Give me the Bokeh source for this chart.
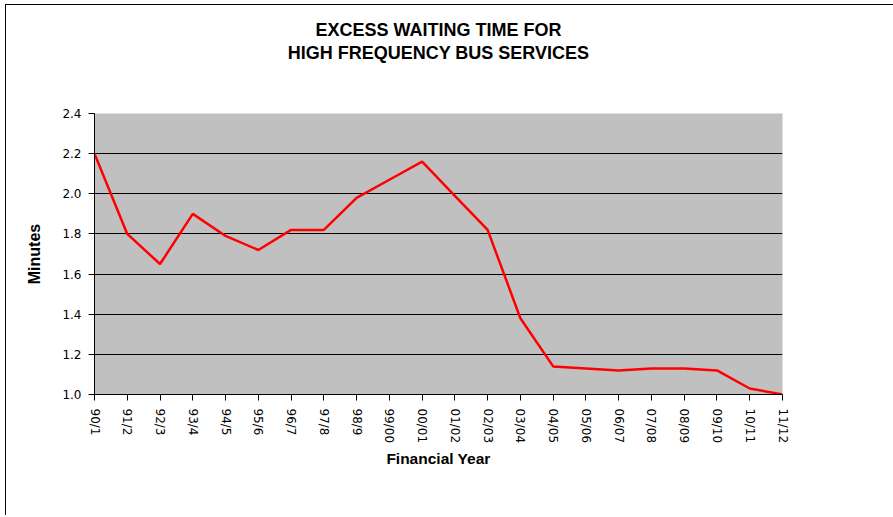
from bokeh.plotting import figure
from bokeh.models import FixedTicker, Range1d, Title
from bokeh.embed import file_html
from bokeh.resources import INLINE

years = ["90/1", "91/2", "92/3", "93/4", "94/5", "95/6", "96/7", "97/8", "98/9", "99/00",
         "00/01", "01/02", "02/03", "03/04", "04/05", "05/06", "06/07", "07/08", "08/09",
         "09/10", "10/11", "11/12"]
minutes = [2.20, 1.80, 1.65, 1.90, 1.79, 1.72, 1.82, 1.82, 1.98, 2.07,
           2.16, 1.99, 1.82, 1.38, 1.14, 1.13, 1.12, 1.13, 1.13,
           1.12, 1.03, 1.00]
y_ticks = [1.0, 1.2, 1.4, 1.6, 1.8, 2.0, 2.2, 2.4]
y_tick_labels = ["1.0", "1.2", "1.4", "1.6", "1.8", "2.0", "2.2", "2.4"]
grid_ticks = [1.2, 1.4, 1.6, 1.8, 2.0, 2.2]
title_lines = ["EXCESS WAITING TIME FOR", "HIGH FREQUENCY BUS SERVICES"]

xs = list(range(len(years)))

p = figure(frame_width=688, frame_height=281,
           min_border_left=88, min_border_right=111, min_border_top=108, min_border_bottom=121,
           x_range=Range1d(0, len(years) - 1), y_range=Range1d(y_ticks[0], y_ticks[-1]),
           output_backend="svg", toolbar_location=None)

p.background_fill_color = "#c0c0c0"
p.border_fill_color = "white"
p.outline_line_color = None


def style_title(t):
    t.align = "center"
    t.text_font = "Liberation Sans"
    t.text_font_size = "18px"
    t.text_font_style = "bold"
    t.text_color = "black"


# figure title is outermost; items in 'above' stack outward from the frame
p.title.text = title_lines[0]
style_title(p.title)
p.title.standoff = 1
spacer = Title(text=" ", text_font_size="1px", standoff=48)
p.add_layout(spacer, "above")
t2 = Title(text=title_lines[1])
style_title(t2)
t2.standoff = 0
p.add_layout(t2, "above")

# x axis
p.xaxis.ticker = FixedTicker(ticks=xs)
p.xaxis.major_label_overrides = {i: lab for i, lab in zip(xs, years)}
p.xaxis.major_label_orientation = "vertical"
p.xaxis.axis_label = "Financial Year"
p.xaxis.axis_label_text_font = "Liberation Sans"
p.xaxis.axis_label_text_font_size = "15.5px"
p.xaxis.axis_label_text_font_style = "bold"
p.xaxis.axis_label_standoff = 4
p.xaxis.major_label_standoff = 8

# y axis
p.yaxis.ticker = FixedTicker(ticks=y_ticks)
p.yaxis.major_label_overrides = {t: lab for t, lab in zip(y_ticks, y_tick_labels)}
p.yaxis.axis_label = "Minutes"
p.yaxis.axis_label_text_font = "Liberation Sans"
p.yaxis.axis_label_text_font_size = "16px"
p.yaxis.axis_label_text_font_style = "bold"
p.yaxis.axis_label_standoff = 16
p.yaxis.major_label_standoff = 7

for ax in (p.xaxis, p.yaxis):
    ax.axis_line_color = "black"
    ax.axis_line_width = 1
    ax.major_tick_line_color = "black"
    ax.major_tick_out = 6
    ax.major_tick_in = 0
    ax.minor_tick_line_color = None
    ax.major_label_text_font = "DejaVu Sans"
    ax.major_label_text_font_size = "12px"
    ax.major_label_text_color = "black"
    ax.axis_label_text_color = "black"

p.xgrid.grid_line_color = None
p.ygrid.ticker = FixedTicker(ticks=grid_ticks)
p.ygrid.grid_line_color = "black"
p.ygrid.grid_line_width = 1
p.ygrid.grid_line_alpha = 1.0

p.line(xs, minutes, line_color="#ff0000", line_width=2.5)

p.styles = {"border-left": "1px solid black", "border-top": "1px solid black",
            "margin-left": "5px", "margin-top": "4px"}

open("out.html", "w").write(file_html(p, INLINE))
